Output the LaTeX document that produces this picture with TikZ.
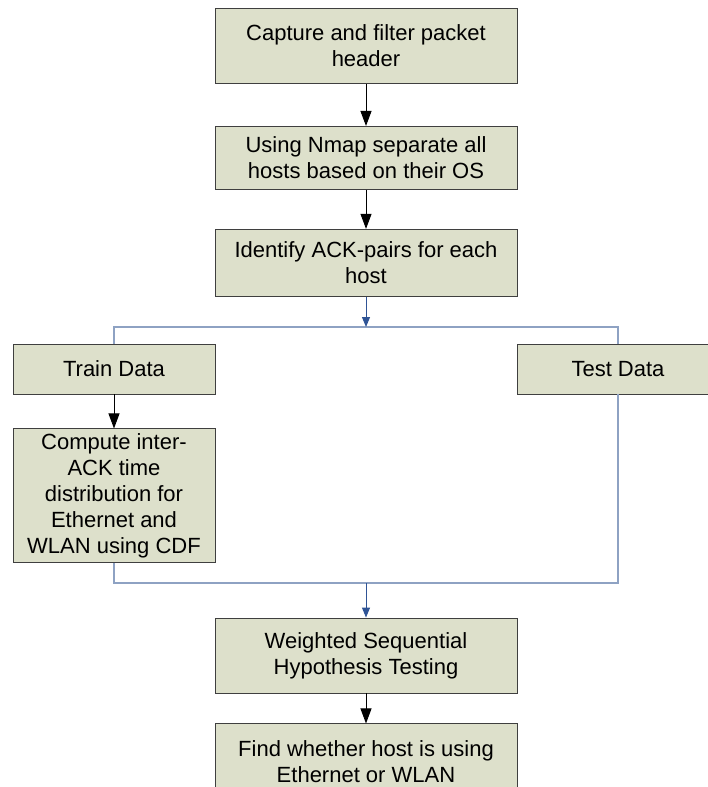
\documentclass[tikz,border=0pt]{standalone}
\usepackage{fontspec}
\setmainfont{Liberation Sans}
\usetikzlibrary{arrows.meta,positioning}
\definecolor{BoxFill}{HTML}{DDE0CB}
\definecolor{BoxLine}{HTML}{3F3F3F}
\definecolor{BusLine}{HTML}{8EA2C3}
\definecolor{StemBlue}{HTML}{2F5496}

\begin{document}
\begin{tikzpicture}[
  x=1pt, y=-1pt,
  box/.style={draw=BoxLine, fill=BoxFill, line width=0.9pt, align=center, minimum width=302pt, minimum height=68pt, inner sep=0pt, font=\fontsize{22}{26}\selectfont},
  side/.style={box, minimum width=202pt},
  flow/.style={-{Triangle[width=11pt,length=15pt]}, line width=0.9pt},
  bus/.style={draw=BusLine, line width=1.2pt},
  stem/.style={-{Triangle[width=8pt,length=10pt]}, draw=StemBlue, line width=1pt}
]
\useasboundingbox (0,0) rectangle (708,787);

\node[box, minimum height=75pt] (capture) at (366,46) {Capture and filter packet\\header};
\node[box, minimum height=63pt, below=42pt of capture] (nmap) {Using Nmap separate all\\hosts based on their OS};
\node[box, minimum height=67pt, below=39pt of nmap] (ackpairs) {Identify ACK-pairs for each\\host};
\node[side, minimum height=50pt] (train) at (114,369) {Train Data};
\node[side, minimum height=50pt] (test) at (618,369) {Test Data};
\node[side, minimum height=134pt, below=34pt of train] (compute) {Compute inter-\\ACK time\\distribution for\\Ethernet and\\WLAN using CDF};
\node[box, minimum height=75pt] (wsht) at (366,655.5) {Weighted Sequential\\Hypothesis Testing};
\node[box, minimum height=75pt, below=30pt of wsht] (result) {Find whether host is using\\Ethernet or WLAN};

\coordinate (split) at (366,327);
\coordinate (join) at (366,583);

% split into train / test
\draw[bus] (train.north) |- (split) -| (test.north);
\draw[bus] (compute.south) |- (join) -| (test.south);
\draw[stem] (ackpairs) -- (split);
\draw[stem] (join) -- (wsht);

\draw[flow] (capture) -- (nmap);
\draw[flow] (nmap) -- (ackpairs);
\draw[flow] (train) -- (compute);
\draw[flow] (wsht) -- (result);
\end{tikzpicture}
\end{document}
